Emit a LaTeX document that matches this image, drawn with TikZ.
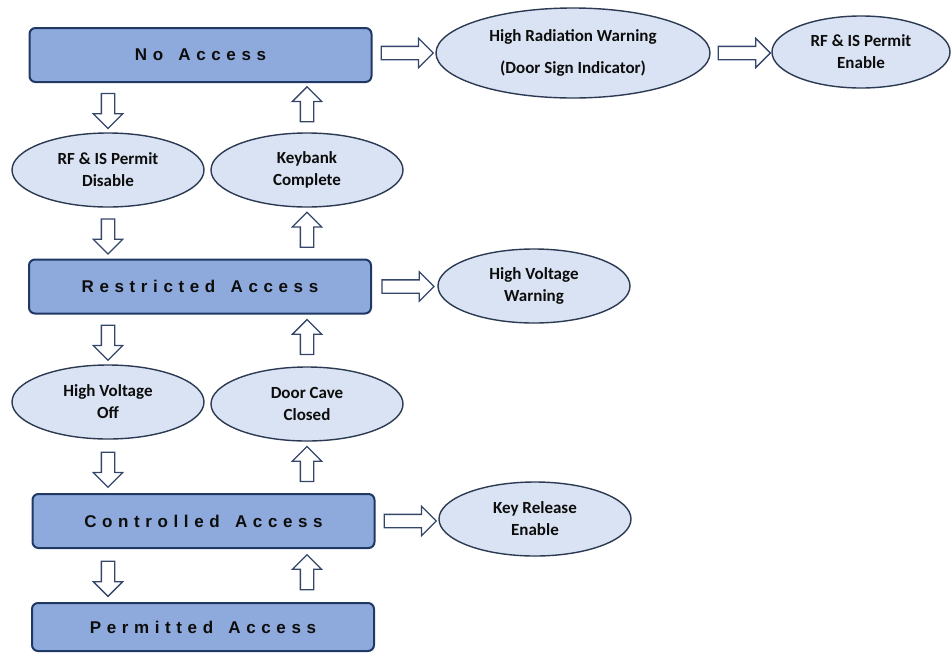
\documentclass[tikz,border=0pt]{standalone}
\usepackage{fontspec}
\setmainfont{Carlito}
\newfontfamily\accfont[LetterSpace=33]{Liberation Sans}
\usetikzlibrary{shapes.geometric,shapes.arrows}

\definecolor{boxblue}{HTML}{8EA9DB}
\definecolor{boxline}{HTML}{1F3864}
\definecolor{ovalfill}{HTML}{DAE3F3}
\definecolor{ovalline}{HTML}{2B3A52}
\definecolor{arrline}{HTML}{34466A}

\newcommand{\wgap}{\hspace{5pt} }

\tikzset{
	accbox/.style={draw=boxline, line width=2pt, fill=boxblue, rounded corners=6pt, minimum width=342pt, minimum height=54pt, text=black!95, font=\accfont\bfseries\fontsize{17}{17}\selectfont},
	stateoval/.style={ellipse, draw=ovalline, line width=1.4pt, fill=ovalfill, minimum width=192pt, minimum height=74pt, inner sep=0pt, align=center, text=black!95, font=\bfseries\fontsize{17}{22}\selectfont},
	blockarr/.style={single arrow, draw=arrline, fill=white, line width=1.3pt, inner xsep=0pt, inner ysep=6pt, single arrow head extend=8pt, minimum height=35pt, sloped, allow upside down}
}

\begin{document}
\begin{tikzpicture}[x=1pt, y=-1pt]
	\useasboundingbox (0,0) rectangle (952,654);
	% access levels
	\node[accbox] (noacc) at (200.5,55) {No\wgap Access};
	\node[accbox] (restr) at (200,286.5) {Restricted\wgap Access};
	\node[accbox] (ctrl) at (203.5,521) {Controlled\wgap Access};
	\node[accbox, minimum height=48pt] (perm) at (203,627) {Permitted\wgap Access};
	% conditions between levels
	\node[stateoval] (rfdis) at (108,170) {RF \& IS Permit\\Disable};
	\node[stateoval] (keyb) at (307,170) {Keybank\\Complete};
	\node[stateoval] (hvoff) at (108,402) {High Voltage\\Off};
	\node[stateoval] (door) at (307,404) {Door Cave\\Closed};
	% side effects
	\node[stateoval, minimum width=274pt, minimum height=90pt] (radw) at (573,53) {High Radiation Warning\\[10pt](Door Sign Indicator)};
	\node[stateoval, minimum width=178pt, minimum height=72pt] (rfen) at (861,52) {RF \& IS Permit\\Enable};
	\node[stateoval] (hvwarn) at (534,286) {High Voltage\\Warning};
	\node[stateoval] (keyrel) at (535,519) {Key Release\\Enable};
	% going down
	\foreach \a/\b in {noacc/rfdis, rfdis/restr, restr/hvoff, hvoff/ctrl, ctrl/perm} {
		\path (\a.south -| hvoff) -- node[blockarr] {} (\b.north -| hvoff);
	}
	% going up
	\foreach \a/\b in {keyb/noacc, restr/keyb, door/restr, ctrl/door, perm/ctrl} {
		\path (\a.north -| door) -- node[blockarr] {} (\b.south -| door);
	}
	% to the right
	\path (radw.west -| noacc.east) -- node[blockarr, minimum height=52pt] {} (radw.west);
	\path (radw.east) -- node[blockarr, minimum height=52pt] {} (radw.east -| rfen.west);
	\path (restr.east) -- node[blockarr, minimum height=52pt] {} (restr.east -| hvwarn.west);
	\path (ctrl.east) -- node[blockarr, minimum height=52pt] {} (ctrl.east -| keyrel.west);
\end{tikzpicture}
\end{document}
